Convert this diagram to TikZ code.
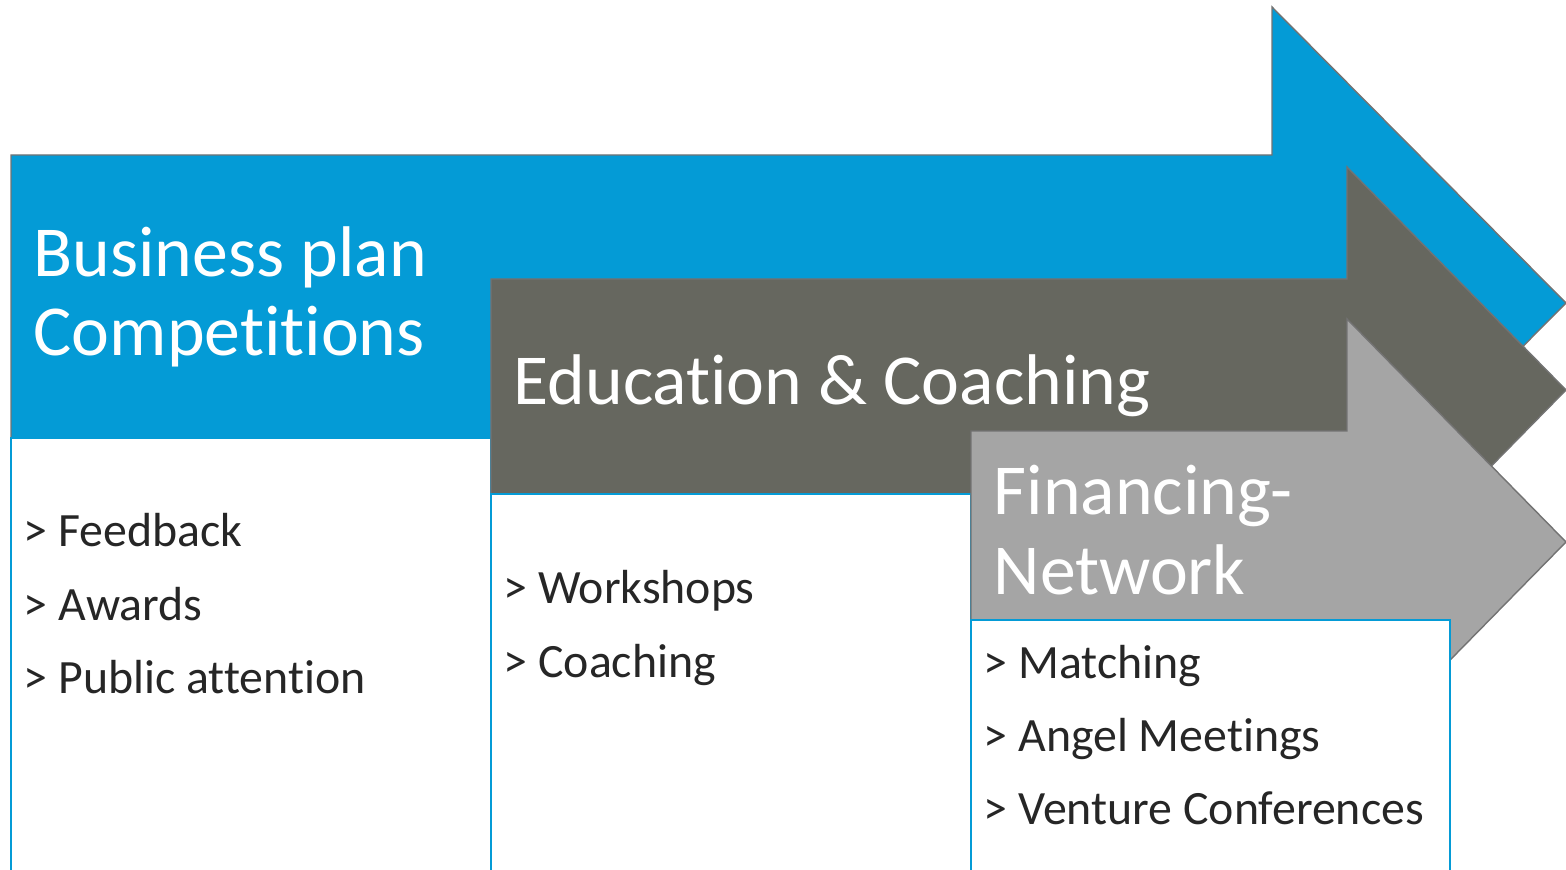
\documentclass[tikz,border=0pt]{standalone}
\usepackage{fontspec}
\setmainfont[Ligatures=NoCommon]{Carlito}
\usetikzlibrary{calc}
\definecolor{phaseblue}{RGB}{4,155,214}
\definecolor{phasedark}{RGB}{102,103,95}
\definecolor{phaselight}{RGB}{165,165,165}
\tikzset{
  phasearrow/.style={draw=black!55, line width=0.4pt, line join=miter},
  itembox/.style={draw=phaseblue, fill=white, line width=0.6pt},
  headtext/.style={text=white, anchor=base west, inner sep=0pt, align=left,
    font=\fontsize{20.4}{22.5}\selectfont},
  itemtext/.style={text=black!85, anchor=base west, inner sep=0pt,
    font=\fontsize{13.6}{16}\selectfont},
}

\begin{document}
\begin{tikzpicture}[x=0.01cm, y=-0.01cm]
    \useasboundingbox (0,0) rectangle (1566,870);
    \clip (0,0) rectangle (1566,870);

    % Blue arrow
    \draw[phasearrow, fill=phaseblue] (11,155) -- (1272,155) -- (1272,7) -- (1566,303)
        -- (1272,599) -- (1272,451) -- (11,451) -- cycle;
    % Box #1
    \draw[itembox] (11,438) rectangle (491,880);

    % Dark grey arrow
    \draw[phasearrow, fill=phasedark] (491,279) -- (1347,279) -- (1347,167) -- (1566,390)
        -- (1347,613) -- (1347,501) -- (491,501) -- cycle;
    % Box #2
    \draw[itembox] (491,494) rectangle (971,880);

    % Light grey arrow
    \draw[phasearrow, fill=phaselight] (971,431) -- (1347,431) -- (1347,319) -- (1566,542)
        -- (1347,765) -- (1347,653) -- (971,653) -- cycle;
    % Box #3
    \draw[itembox] (971,620) rectangle (1450,880);

    % Titles (anchor on the last line)
    \node[headtext] (bizTitle) at (33,356) {Business plan\\Competitions};
    \node[headtext] (eduTitle) at (513,404) {Education \& Coaching};
    \node[headtext] (finTitle) at (993,594) {Financing-\\Network};

    % Items
    \node[itemtext] (feedback) at (23,546) {> Feedback};
    \node[itemtext] (awards) at (23,620) {> Awards};
    \node[itemtext] (publicAtt) at (23,693) {> Public attention};

    \node[itemtext] (workshops) at (503,603) {> Workshops};
    \node[itemtext] (coaching) at (503,677) {> Coaching};

    \node[itemtext] (matching) at (983,678) {> Matching};
    \node[itemtext] (angels) at (983,751) {> Angel Meetings};
    \node[itemtext] (venture) at (983,824) {> Venture Conferences};
\end{tikzpicture}
\end{document}
